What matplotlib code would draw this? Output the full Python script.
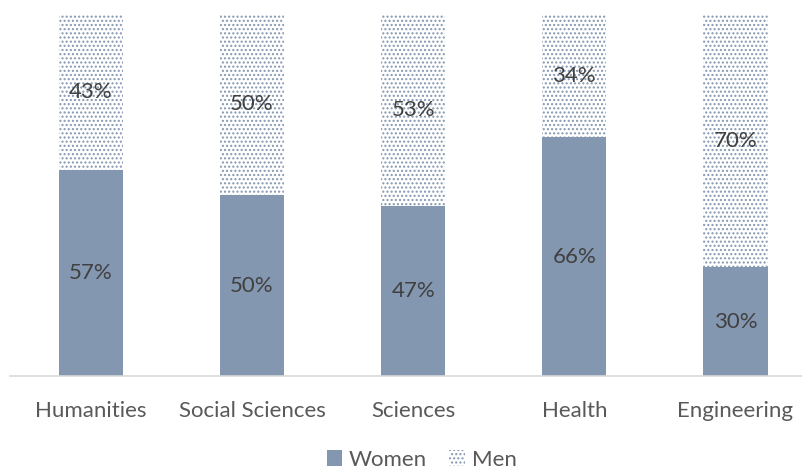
import matplotlib.pyplot as plt
from matplotlib.patches import Patch

categories = ["Humanities", "Social Sciences", "Sciences", "Health", "Engineering"]
women = [57, 50, 47, 66, 30]
men = [43, 50, 53, 34, 70]

plt.rcParams['font.family'] = ['Lato', 'DejaVu Sans']
plt.rcParams['hatch.color'] = '#8497B0'
plt.rcParams['hatch.linewidth'] = 1.0

fig = plt.figure(figsize=(8.03, 4.70), dpi=100)
ax = fig.add_axes([10 / 803, 1 - 376 / 470, 793 / 803, 362 / 470])

x = list(range(len(categories)))
ax.bar(x, women, width=0.4, color='#8497B0')
ax.bar(x, men, width=0.4, bottom=women, color='white', hatch='....', linewidth=0)

for i in x:
    ax.text(i, women[i] / 2, f"{women[i]}%", ha='center', va='center', fontsize=16, color='#404040')
    ax.text(i, women[i] + men[i] / 2, f"{men[i]}%", ha='center', va='center', fontsize=16, color='#404040')

ax.set_xlim(-0.503, 4.42)
ax.set_ylim(0, 100)
ax.set_yticks([])
ax.set_xticks(x)
ax.set_xticklabels(categories, fontsize=16, color='#595959')
ax.tick_params(axis='x', length=0, pad=18)
for s in ['top', 'right', 'left']:
    ax.spines[s].set_visible(False)
ax.spines['bottom'].set_color('#D9D9D9')
ax.spines['bottom'].set_linewidth(1.2)

handles = [Patch(facecolor='#8497B0', label='Women'),
           Patch(facecolor='white', hatch='....', linewidth=0, label='Men')]
fig.legend(handles=handles, loc='center', bbox_to_anchor=(0.525, 1 - 460 / 470), ncol=2,
           frameon=False, fontsize=16, handlelength=0.7, handleheight=0.7,
           handletextpad=0.3, columnspacing=1.0, labelcolor='#595959')

fig.savefig('out.png', dpi=100)
